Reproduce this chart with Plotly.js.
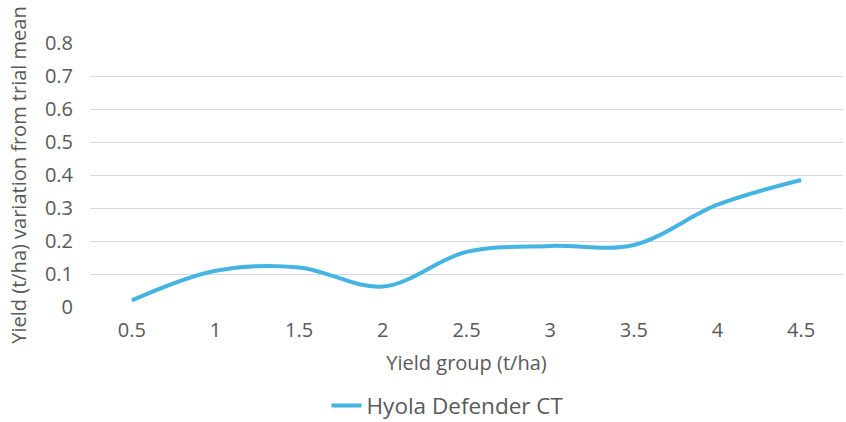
<!DOCTYPE html>
<html>
<head>
<meta charset="utf-8">
<script src="https://cdn.plot.ly/plotly-3.0.1.min.js"></script>
<style>html,body{margin:0;padding:0;background:#fff;}#chart{width:846px;height:422px;}</style>
</head>
<body>
<div id="chart"></div>
<script>
const categories = ["0.5", "1", "1.5", "2", "2.5", "3", "3.5", "4", "4.5"];
const hyolaDefenderCT = [0.02, 0.11, 0.12, 0.062, 0.167, 0.185, 0.188, 0.31, 0.385];
const yTickVals = [0, 0.1, 0.2, 0.3, 0.4, 0.5, 0.6, 0.7, 0.8];
const yTickText = ["0", "0.1", "0.2", "0.3", "0.4", "0.5", "0.6", "0.7", "0.8"];
const seriesName = "Hyola Defender CT";

const fontFam = "'Open Sans', sans-serif";
const grey = "#595959";

Plotly.newPlot("chart", [{
  type: "scatter",
  mode: "lines",
  x: categories,
  y: hyolaDefenderCT,
  name: seriesName,
  line: {color: "#45b4e3", width: 4, shape: "spline", smoothing: 1}
}], {
  width: 846, height: 422,
  margin: {l: 90, r: 3, t: 43, b: 115, autoexpand: false},
  paper_bgcolor: "#fff", plot_bgcolor: "#fff",
  font: {family: fontFam, color: grey, size: 20},
  showlegend: true,
  legend: {orientation: "h", x: 0.529, xanchor: "center", xref: "container", y: -0.293, yanchor: "top", yref: "paper",
           font: {size: 22.5, color: grey}},
  xaxis: {
    type: "category", range: [-0.5, 8.5], showgrid: false, zeroline: false, showline: false,
    ticks: "", ticklabelstandoff: 9, tickfont: {size: 20, color: grey},
    title: {text: "Yield group (t/ha)", font: {size: 20, color: grey}, standoff: 13}
  },
  yaxis: {
    range: [0, 0.8], tickvals: yTickVals, ticktext: yTickText, showgrid: true, gridcolor: "#d9d9d9", gridwidth: 1,
    zeroline: false, showline: false, ticks: "", ticklabelstandoff: 16, tickfont: {size: 20, color: grey},
    title: {text: "Yield (t/ha) variation from trial mean", font: {size: 20, color: grey}, standoff: 12}
  }
}, {staticPlot: true});
</script>
</body>
</html>
